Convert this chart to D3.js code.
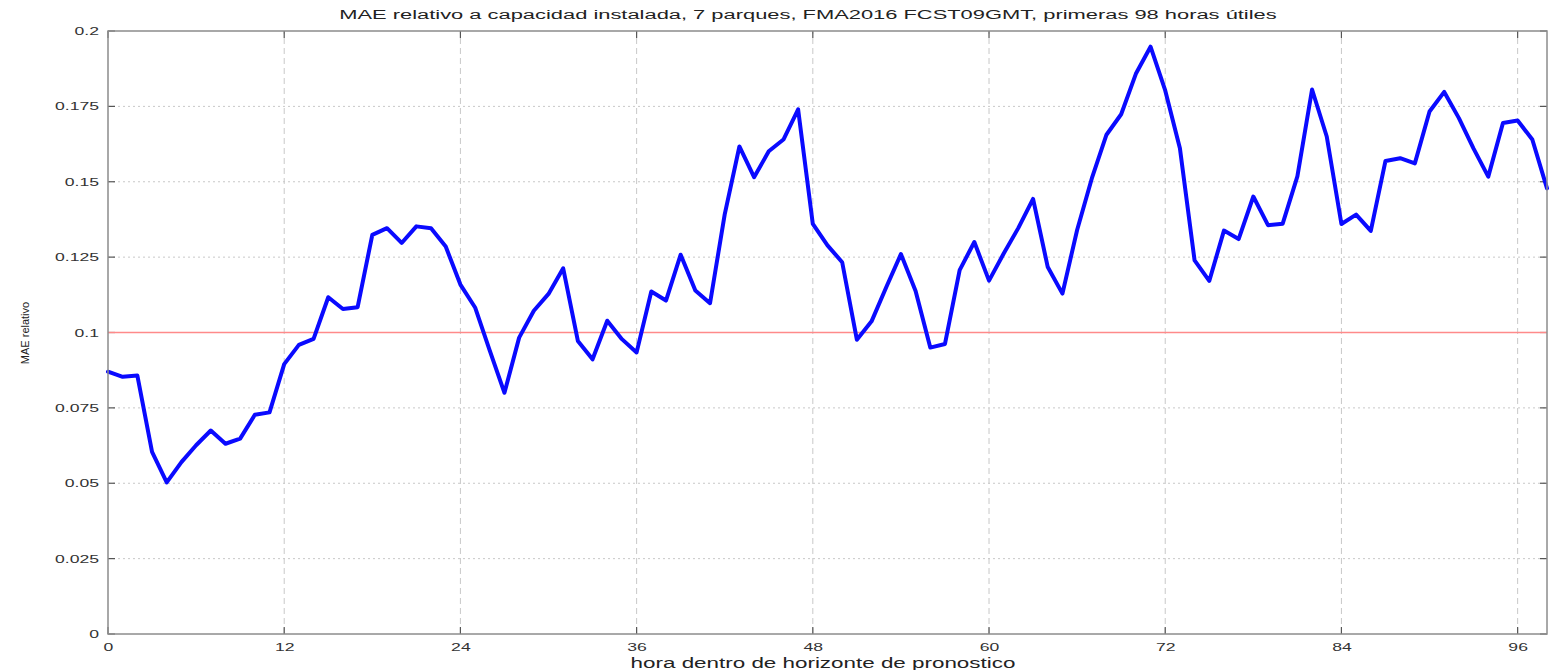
<!DOCTYPE html>
<html>
<head>
<meta charset="utf-8">
<script src="https://cdn.jsdelivr.net/npm/d3@7"></script>
<style>
  html, body { margin: 0; padding: 0; background: #fff; }
  svg { display: block; font-family: "Liberation Sans", Arial, Helvetica, sans-serif; }
</style>
</head>
<body>
<svg id="chart" width="1550" height="670"></svg>
<script>
// Forecast hours 0..98
const hours = d3.range(0, 99);

// Relative MAE per forecast hour (fraction of installed capacity)
const maeRelativo = [
  0.0870, 0.0853, 0.0857, 0.0604, 0.0503, 0.0570, 0.0626, 0.0675, 0.0631, 0.0648,
  0.0727, 0.0735, 0.0895, 0.0959, 0.0979, 0.1117, 0.1078, 0.1084, 0.1324, 0.1346,
  0.1297, 0.1352, 0.1346, 0.1285, 0.1159, 0.1083, 0.0940, 0.0800, 0.0983, 0.1072,
  0.1128, 0.1213, 0.0972, 0.0911, 0.1039, 0.0978, 0.0934, 0.1136, 0.1106, 0.1258,
  0.1139, 0.1097, 0.1392, 0.1617, 0.1515, 0.1601, 0.1640, 0.1740, 0.1360, 0.1289,
  0.1233, 0.0976, 0.1037, 0.1150, 0.1260, 0.1138, 0.0950, 0.0962, 0.1207, 0.1300,
  0.1172, 0.1262, 0.1347, 0.1443, 0.1217, 0.1129, 0.1340, 0.1511, 0.1656, 0.1724,
  0.1858, 0.1948, 0.1803, 0.1611, 0.1239, 0.1171, 0.1338, 0.1310, 0.1451, 0.1356,
  0.1361, 0.1518, 0.1806, 0.1650, 0.1360, 0.1391, 0.1337, 0.1569, 0.1578, 0.1561,
  0.1733, 0.1798, 0.1711, 0.1610, 0.1517, 0.1695, 0.1703, 0.1640, 0.1478
];

// Reference threshold (10 % of capacity)
const umbral = 0.1;

// Axis ticks
const xTicks = [0, 12, 24, 36, 48, 60, 72, 84, 96];
const yTicks = [0, 0.025, 0.05, 0.075, 0.1, 0.125, 0.15, 0.175, 0.2];
const yTickLabels = ["0", "0.025", "0.05", "0.075", "0.1", "0.125", "0.15", "0.175", "0.2"];

const titulo = "MAE relativo a capacidad instalada, 7 parques, FMA2016 FCST09GMT, primeras 98 horas útiles";
const xTitulo = "hora dentro de horizonte de pronostico";
const yTitulo = "MAE relativo";

const svg = d3.select("#chart");
const margin = { top: 31, right: 3, bottom: 36, left: 108 };
const W = 1550, H = 670;
const iw = W - margin.left - margin.right;
const ih = H - margin.top - margin.bottom;

const x = d3.scaleLinear().domain([0, 98]).range([margin.left, margin.left + iw]);
const y = d3.scaleLinear().domain([0, 0.2]).range([margin.top + ih, margin.top]);

const frameColor = "#8c8c8c";
const gridColor = "#c8c8c8";

// Horizontally widen horizontal text (the output uses a wide, stretched face)
function widen(sel, factor) {
  sel.each(function () {
    const w = this.getComputedTextLength();
    d3.select(this)
      .attr("textLength", w * factor)
      .attr("lengthAdjust", "spacingAndGlyphs");
  });
}

// Grid: dashed verticals, dotted horizontals
svg.append("g")
  .selectAll("line")
  .data(xTicks.filter(d => d > 0))
  .join("line")
  .attr("x1", d => x(d)).attr("x2", d => x(d))
  .attr("y1", y(0)).attr("y2", y(0.2))
  .attr("stroke", gridColor)
  .attr("stroke-width", 1)
  .attr("stroke-dasharray", "6,4");

svg.append("g")
  .selectAll("line")
  .data(yTicks.filter(d => d > 0 && d < 0.2))
  .join("line")
  .attr("x1", x(0)).attr("x2", x(98))
  .attr("y1", d => y(d)).attr("y2", d => y(d))
  .attr("stroke", gridColor)
  .attr("stroke-width", 1)
  .attr("stroke-dasharray", "2,3");

// Bottom axis
const xAxis = d3.axisBottom(x).tickValues(xTicks).tickSize(0).tickPadding(9);
const gx = svg.append("g").attr("transform", `translate(0,${y(0)})`).call(xAxis);
gx.select(".domain").remove();
gx.selectAll("text").attr("font-size", 11).attr("fill", "#333").call(widen, 1.6);

// Left axis
const yAxis = d3.axisLeft(y).tickValues(yTicks).tickSize(0).tickPadding(9)
  .tickFormat((d, i) => yTickLabels[i]);
const gy = svg.append("g").attr("transform", `translate(${x(0)},0)`).call(yAxis);
gy.select(".domain").remove();
gy.selectAll("text").attr("font-size", 11).attr("fill", "#333").call(widen, 1.6);

// Inward tick marks on all four sides
const tk = 7;
const ticksG = svg.append("g").attr("stroke", "#555").attr("stroke-width", 1.2);
ticksG.selectAll(".tb").data(xTicks).join("line")
  .attr("x1", d => x(d)).attr("x2", d => x(d))
  .attr("y1", y(0)).attr("y2", y(0) - tk);
ticksG.selectAll(".tt").data(xTicks).join("line")
  .attr("x1", d => x(d)).attr("x2", d => x(d))
  .attr("y1", y(0.2)).attr("y2", y(0.2) + tk);
ticksG.selectAll(".tl").data(yTicks).join("line")
  .attr("x1", x(0)).attr("x2", x(0) + tk)
  .attr("y1", d => y(d)).attr("y2", d => y(d));
ticksG.selectAll(".tr").data(yTicks).join("line")
  .attr("x1", x(98)).attr("x2", x(98) - tk)
  .attr("y1", d => y(d)).attr("y2", d => y(d));

// Threshold line
svg.append("line")
  .attr("x1", x(0)).attr("x2", x(98))
  .attr("y1", y(umbral)).attr("y2", y(umbral))
  .attr("stroke", "#ff8a8a")
  .attr("stroke-width", 1.6);

// Series line
const line = d3.line()
  .x((d, i) => x(hours[i]))
  .y(d => y(d));

svg.append("path")
  .datum(maeRelativo)
  .attr("d", line)
  .attr("fill", "none")
  .attr("stroke", "#0a0aff")
  .attr("stroke-width", 4)
  .attr("stroke-linejoin", "round")
  .attr("stroke-linecap", "round");

// Plot frame
svg.append("rect")
  .attr("x", x(0)).attr("y", y(0.2))
  .attr("width", x(98) - x(0)).attr("height", y(0) - y(0.2))
  .attr("fill", "none")
  .attr("stroke", frameColor)
  .attr("stroke-width", 1.5);

// Titles
svg.append("text")
  .attr("x", 808).attr("y", 19)
  .attr("text-anchor", "middle")
  .attr("font-size", 12.5)
  .attr("fill", "#222")
  .text(titulo)
  .call(widen, 1.75);

svg.append("text")
  .attr("x", 823).attr("y", 668)
  .attr("text-anchor", "middle")
  .attr("font-size", 14)
  .attr("fill", "#222")
  .text(xTitulo)
  .call(widen, 1.6);

svg.append("text")
  .attr("transform", `translate(29,333) rotate(-90)`)
  .attr("text-anchor", "middle")
  .attr("font-size", 11)
  .attr("fill", "#222")
  .text(yTitulo);
</script>
</body>
</html>
